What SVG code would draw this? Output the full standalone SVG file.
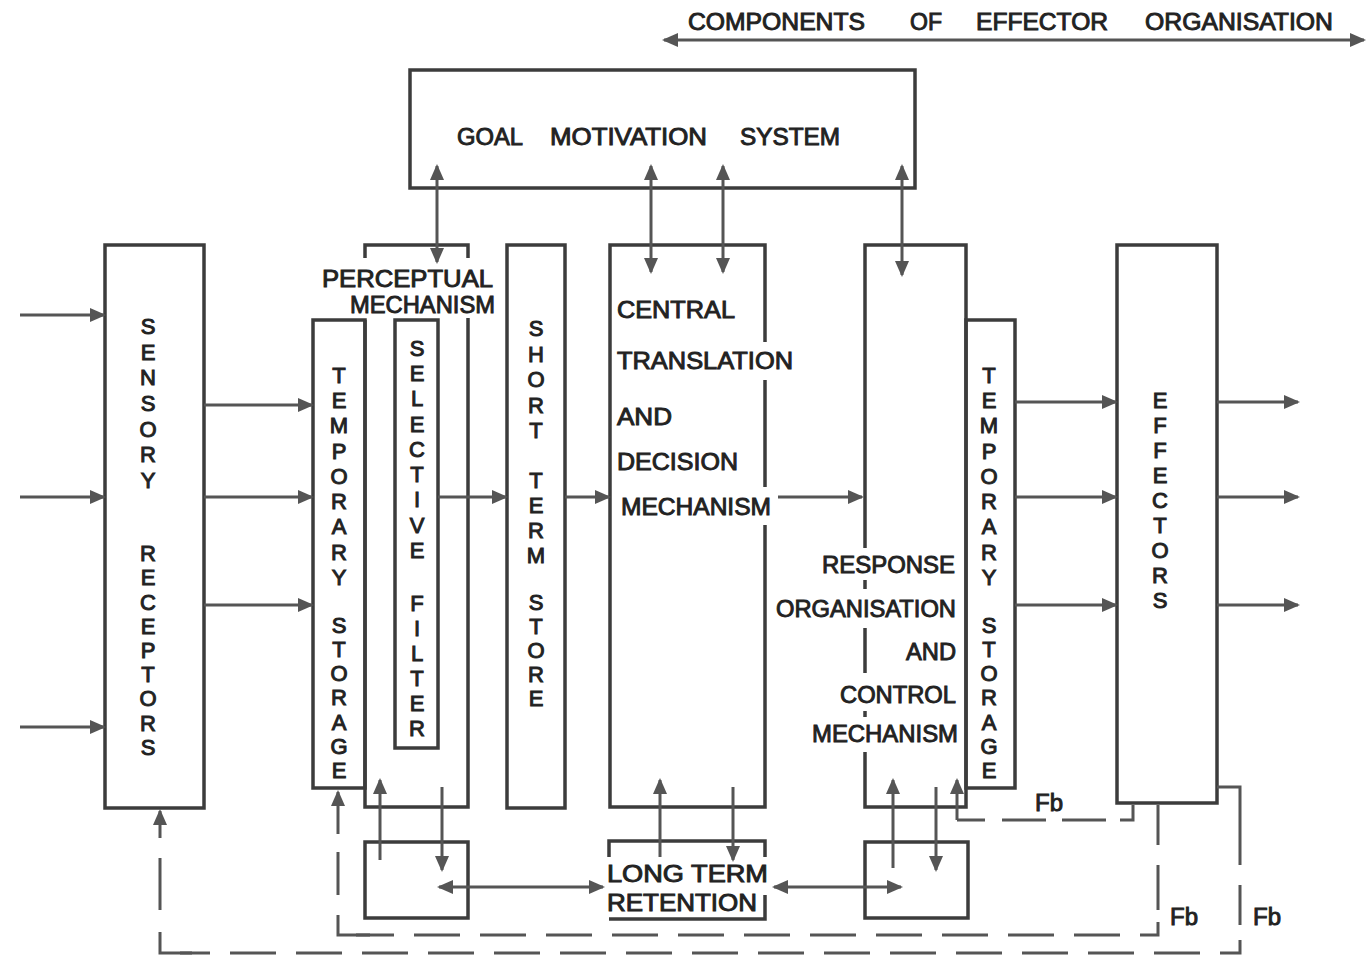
<svg xmlns="http://www.w3.org/2000/svg" width="1370" height="959" viewBox="0 0 1370 959">
<style>
.bx{fill:none;stroke:#3c3c3c;stroke-width:3.5;stroke-linejoin:miter}
.ln{fill:none;stroke:#555;stroke-width:3}
.ar{fill:none;stroke:#555;stroke-width:3;marker-end:url(#ah)}
.da{fill:none;stroke:#555;stroke-width:3;marker-start:url(#ah);marker-end:url(#ah)}
.ds{fill:none;stroke:#555;stroke-width:3;stroke-dasharray:46 20}
.t{font-family:"Liberation Sans",Arial,sans-serif;font-size:23px;fill:#222;stroke:#222;stroke-width:0.9}
.v{font-family:"Liberation Sans",Arial,sans-serif;font-size:22px;fill:#222;stroke:#222;stroke-width:1;text-anchor:middle}
</style>
<defs>
<marker id="ah" viewBox="0 0 16 14" refX="14" refY="7" markerWidth="16" markerHeight="14" markerUnits="userSpaceOnUse" orient="auto-start-reverse">
<path d="M0,0 L16,7 L0,14 z" fill="#555"/>
</marker>
</defs>
<rect width="1370" height="959" fill="#fff"/>

<g id="banner">
<text class="t" x="688" y="30" textLength="177" lengthAdjust="spacingAndGlyphs">COMPONENTS</text>
<text class="t" x="910" y="30" textLength="32" lengthAdjust="spacingAndGlyphs">OF</text>
<text class="t" x="976" y="30" textLength="132" lengthAdjust="spacingAndGlyphs">EFFECTOR</text>
<text class="t" x="1145" y="30" textLength="188" lengthAdjust="spacingAndGlyphs">ORGANISATION</text>
</g>

<g id="goal">
<rect class="bx" x="410" y="70" width="505" height="118"/>
<text class="t" x="457" y="145" textLength="66" lengthAdjust="spacingAndGlyphs">GOAL</text>
<text class="t" x="550" y="145" textLength="157" lengthAdjust="spacingAndGlyphs">MOTIVATION</text>
<text class="t" x="740" y="145" textLength="100" lengthAdjust="spacingAndGlyphs">SYSTEM</text>
</g>

<g id="sensory">
<rect class="bx" x="105" y="245" width="99" height="563"/>
<text class="v"><tspan x="148" y="334">S</tspan><tspan x="148" y="360">E</tspan><tspan x="148" y="385">N</tspan><tspan x="148" y="411">S</tspan><tspan x="148" y="437">O</tspan><tspan x="148" y="462">R</tspan><tspan x="148" y="488">Y</tspan><tspan x="148" y="561">R</tspan><tspan x="148" y="585">E</tspan><tspan x="148" y="610">C</tspan><tspan x="148" y="634">E</tspan><tspan x="148" y="658">P</tspan><tspan x="148" y="682">T</tspan><tspan x="148" y="706">O</tspan><tspan x="148" y="731">R</tspan><tspan x="148" y="755">S</tspan></text>
</g>

<g id="temp-storage-left">
<rect class="bx" x="313" y="320" width="52" height="468"/>
<text class="v"><tspan x="339" y="383">T</tspan><tspan x="339" y="408">E</tspan><tspan x="339" y="433">M</tspan><tspan x="339" y="459">P</tspan><tspan x="339" y="484">O</tspan><tspan x="339" y="509">R</tspan><tspan x="339" y="534">A</tspan><tspan x="339" y="560">R</tspan><tspan x="339" y="585">Y</tspan><tspan x="339" y="633">S</tspan><tspan x="339" y="657">T</tspan><tspan x="339" y="681">O</tspan><tspan x="339" y="705">R</tspan><tspan x="339" y="730">A</tspan><tspan x="339" y="754">G</tspan><tspan x="339" y="778">E</tspan></text>
</g>

<g id="perceptual">
<path class="bx" d="M365,258 V245 H468 V258"/>
<path class="bx" d="M365,320 V807 H468 V318"/>
<text class="t" x="322" y="287" textLength="171" lengthAdjust="spacingAndGlyphs">PERCEPTUAL</text>
<text class="t" x="350" y="313" textLength="145" lengthAdjust="spacingAndGlyphs">MECHANISM</text>
</g>

<g id="selective-filter">
<rect class="bx" x="395" y="320" width="43" height="428"/>
<text class="v"><tspan x="417" y="356">S</tspan><tspan x="417" y="381">E</tspan><tspan x="417" y="406">L</tspan><tspan x="417" y="432">E</tspan><tspan x="417" y="457">C</tspan><tspan x="417" y="482">T</tspan><tspan x="417" y="507">I</tspan><tspan x="417" y="533">V</tspan><tspan x="417" y="558">E</tspan><tspan x="417" y="611">F</tspan><tspan x="417" y="636">I</tspan><tspan x="417" y="661">L</tspan><tspan x="417" y="686">T</tspan><tspan x="417" y="711">E</tspan><tspan x="417" y="736">R</tspan></text>
</g>

<g id="short-term-store">
<rect class="bx" x="507" y="245" width="58" height="563"/>
<text class="v"><tspan x="536" y="336">S</tspan><tspan x="536" y="362">H</tspan><tspan x="536" y="387">O</tspan><tspan x="536" y="413">R</tspan><tspan x="536" y="438">T</tspan><tspan x="536" y="488">T</tspan><tspan x="536" y="513">E</tspan><tspan x="536" y="538">R</tspan><tspan x="536" y="563">M</tspan><tspan x="536" y="610">S</tspan><tspan x="536" y="634">T</tspan><tspan x="536" y="658">O</tspan><tspan x="536" y="682">R</tspan><tspan x="536" y="706">E</tspan></text>
</g>

<g id="central">
<path class="bx" d="M765,525 V807 H610 V245 H765 V342 M765,380 V487"/>
<text class="t" x="617" y="318" textLength="118" lengthAdjust="spacingAndGlyphs">CENTRAL</text>
<text class="t" x="617" y="369" textLength="176" lengthAdjust="spacingAndGlyphs">TRANSLATION</text>
<text class="t" x="617" y="425" textLength="55" lengthAdjust="spacingAndGlyphs">AND</text>
<text class="t" x="617" y="470" textLength="121" lengthAdjust="spacingAndGlyphs">DECISION</text>
<text class="t" x="621" y="515" textLength="150" lengthAdjust="spacingAndGlyphs">MECHANISM</text>
</g>

<g id="response">
<path class="bx" d="M865,548 V245 H966 V807 H865 V752 M865,673 V628 M865,717 V711 M865,589 V580"/>
<text class="t" x="822" y="573" textLength="133" lengthAdjust="spacingAndGlyphs">RESPONSE</text>
<text class="t" x="776" y="617" textLength="180" lengthAdjust="spacingAndGlyphs">ORGANISATION</text>
<text class="t" x="906" y="660" textLength="50" lengthAdjust="spacingAndGlyphs">AND</text>
<text class="t" x="840" y="703" textLength="116" lengthAdjust="spacingAndGlyphs">CONTROL</text>
<text class="t" x="812" y="742" textLength="146" lengthAdjust="spacingAndGlyphs">MECHANISM</text>
</g>

<g id="temp-storage-right">
<rect class="bx" x="966" y="320" width="49" height="468"/>
<text class="v"><tspan x="989" y="383">T</tspan><tspan x="989" y="408">E</tspan><tspan x="989" y="433">M</tspan><tspan x="989" y="459">P</tspan><tspan x="989" y="484">O</tspan><tspan x="989" y="509">R</tspan><tspan x="989" y="534">A</tspan><tspan x="989" y="560">R</tspan><tspan x="989" y="585">Y</tspan><tspan x="989" y="633">S</tspan><tspan x="989" y="657">T</tspan><tspan x="989" y="681">O</tspan><tspan x="989" y="705">R</tspan><tspan x="989" y="730">A</tspan><tspan x="989" y="754">G</tspan><tspan x="989" y="778">E</tspan></text>
</g>

<g id="effectors">
<rect class="bx" x="1117" y="245" width="100" height="558"/>
<text class="v"><tspan x="1160" y="408">E</tspan><tspan x="1160" y="433">F</tspan><tspan x="1160" y="458">F</tspan><tspan x="1160" y="483">E</tspan><tspan x="1160" y="508">C</tspan><tspan x="1160" y="533">T</tspan><tspan x="1160" y="558">O</tspan><tspan x="1160" y="583">R</tspan><tspan x="1160" y="608">S</tspan></text>
</g>

<g id="perceptual-memory">
<rect class="bx" x="365" y="842" width="103" height="76"/>
</g>

<g id="long-term-retention">
<path class="bx" d="M609,857 V841 H765 V857"/>
<path class="bx" d="M609,919 H765 V895"/>
<text class="t" x="607" y="882" textLength="161" lengthAdjust="spacingAndGlyphs">LONG TERM</text>
<text class="t" x="607" y="911" textLength="150" lengthAdjust="spacingAndGlyphs">RETENTION</text>
</g>

<g id="response-memory">
<rect class="bx" x="865" y="842" width="103" height="76"/>
</g>

<g id="feedback-labels">
<text class="t" x="1035" y="811" textLength="28" lengthAdjust="spacingAndGlyphs">Fb</text>
<text class="t" x="1170" y="925" textLength="28" lengthAdjust="spacingAndGlyphs">Fb</text>
<text class="t" x="1253" y="925" textLength="28" lengthAdjust="spacingAndGlyphs">Fb</text>
</g>

<g id="connectors">
<line class="da" x1="664" y1="40" x2="1364" y2="40"/>
<line class="da" x1="437" y1="166" x2="437" y2="262"/>
<line class="da" x1="651" y1="166" x2="651" y2="272"/>
<line class="da" x1="723" y1="166" x2="723" y2="272"/>
<line class="da" x1="902" y1="166" x2="902" y2="275"/>

<line class="ar" x1="20" y1="315" x2="104" y2="315"/>
<line class="ar" x1="20" y1="497" x2="104" y2="497"/>
<line class="ar" x1="20" y1="727" x2="104" y2="727"/>
<line class="ar" x1="204" y1="405" x2="312" y2="405"/>
<line class="ar" x1="204" y1="497" x2="312" y2="497"/>
<line class="ar" x1="204" y1="605" x2="312" y2="605"/>
<line class="ar" x1="438" y1="497" x2="506" y2="497"/>
<line class="ar" x1="565" y1="497" x2="609" y2="497"/>
<line class="ar" x1="778" y1="497" x2="862" y2="497"/>
<line class="ar" x1="1015" y1="402" x2="1116" y2="402"/>
<line class="ar" x1="1015" y1="497" x2="1116" y2="497"/>
<line class="ar" x1="1015" y1="605" x2="1116" y2="605"/>
<line class="ar" x1="1217" y1="402" x2="1298" y2="402"/>
<line class="ar" x1="1217" y1="497" x2="1298" y2="497"/>
<line class="ar" x1="1217" y1="605" x2="1298" y2="605"/>

<line class="ar" x1="380" y1="860" x2="380" y2="780"/>
<line class="ar" x1="442" y1="787" x2="442" y2="870"/>
<line class="da" x1="439" y1="887" x2="603" y2="887"/>
<line class="ar" x1="660" y1="857" x2="660" y2="780"/>
<line class="ar" x1="733" y1="787" x2="733" y2="860"/>
<line class="da" x1="774" y1="887" x2="901" y2="887"/>
<line class="ar" x1="893" y1="868" x2="893" y2="780"/>
<line class="ar" x1="936" y1="787" x2="936" y2="870"/>

<line class="ar" x1="957" y1="820" x2="957" y2="780"/>
<path class="ln" d="M957,820 H985 M1002,820 H1046 M1062,820 H1106 M1120,820 H1133 V805"/>

<path class="ln" d="M1158,805 V845 M1158,865 V910 M1158,922 V935 H1140"/>
<path class="ds" d="M1120,935 H356"/>
<path class="ln" d="M370,935 H338 V915 M338,895 V852"/>
<line class="ar" x1="338" y1="834" x2="338" y2="792"/>

<path class="ln" d="M1217,787 H1240 V865 M1240,885 V925 M1240,940 V953 H1220"/>
<path class="ds" d="M1200,953 H180"/>
<path class="ln" d="M192,953 H160 V932 M160,910 V858"/>
<line class="ar" x1="160" y1="838" x2="160" y2="811"/>
</g>
</svg>
